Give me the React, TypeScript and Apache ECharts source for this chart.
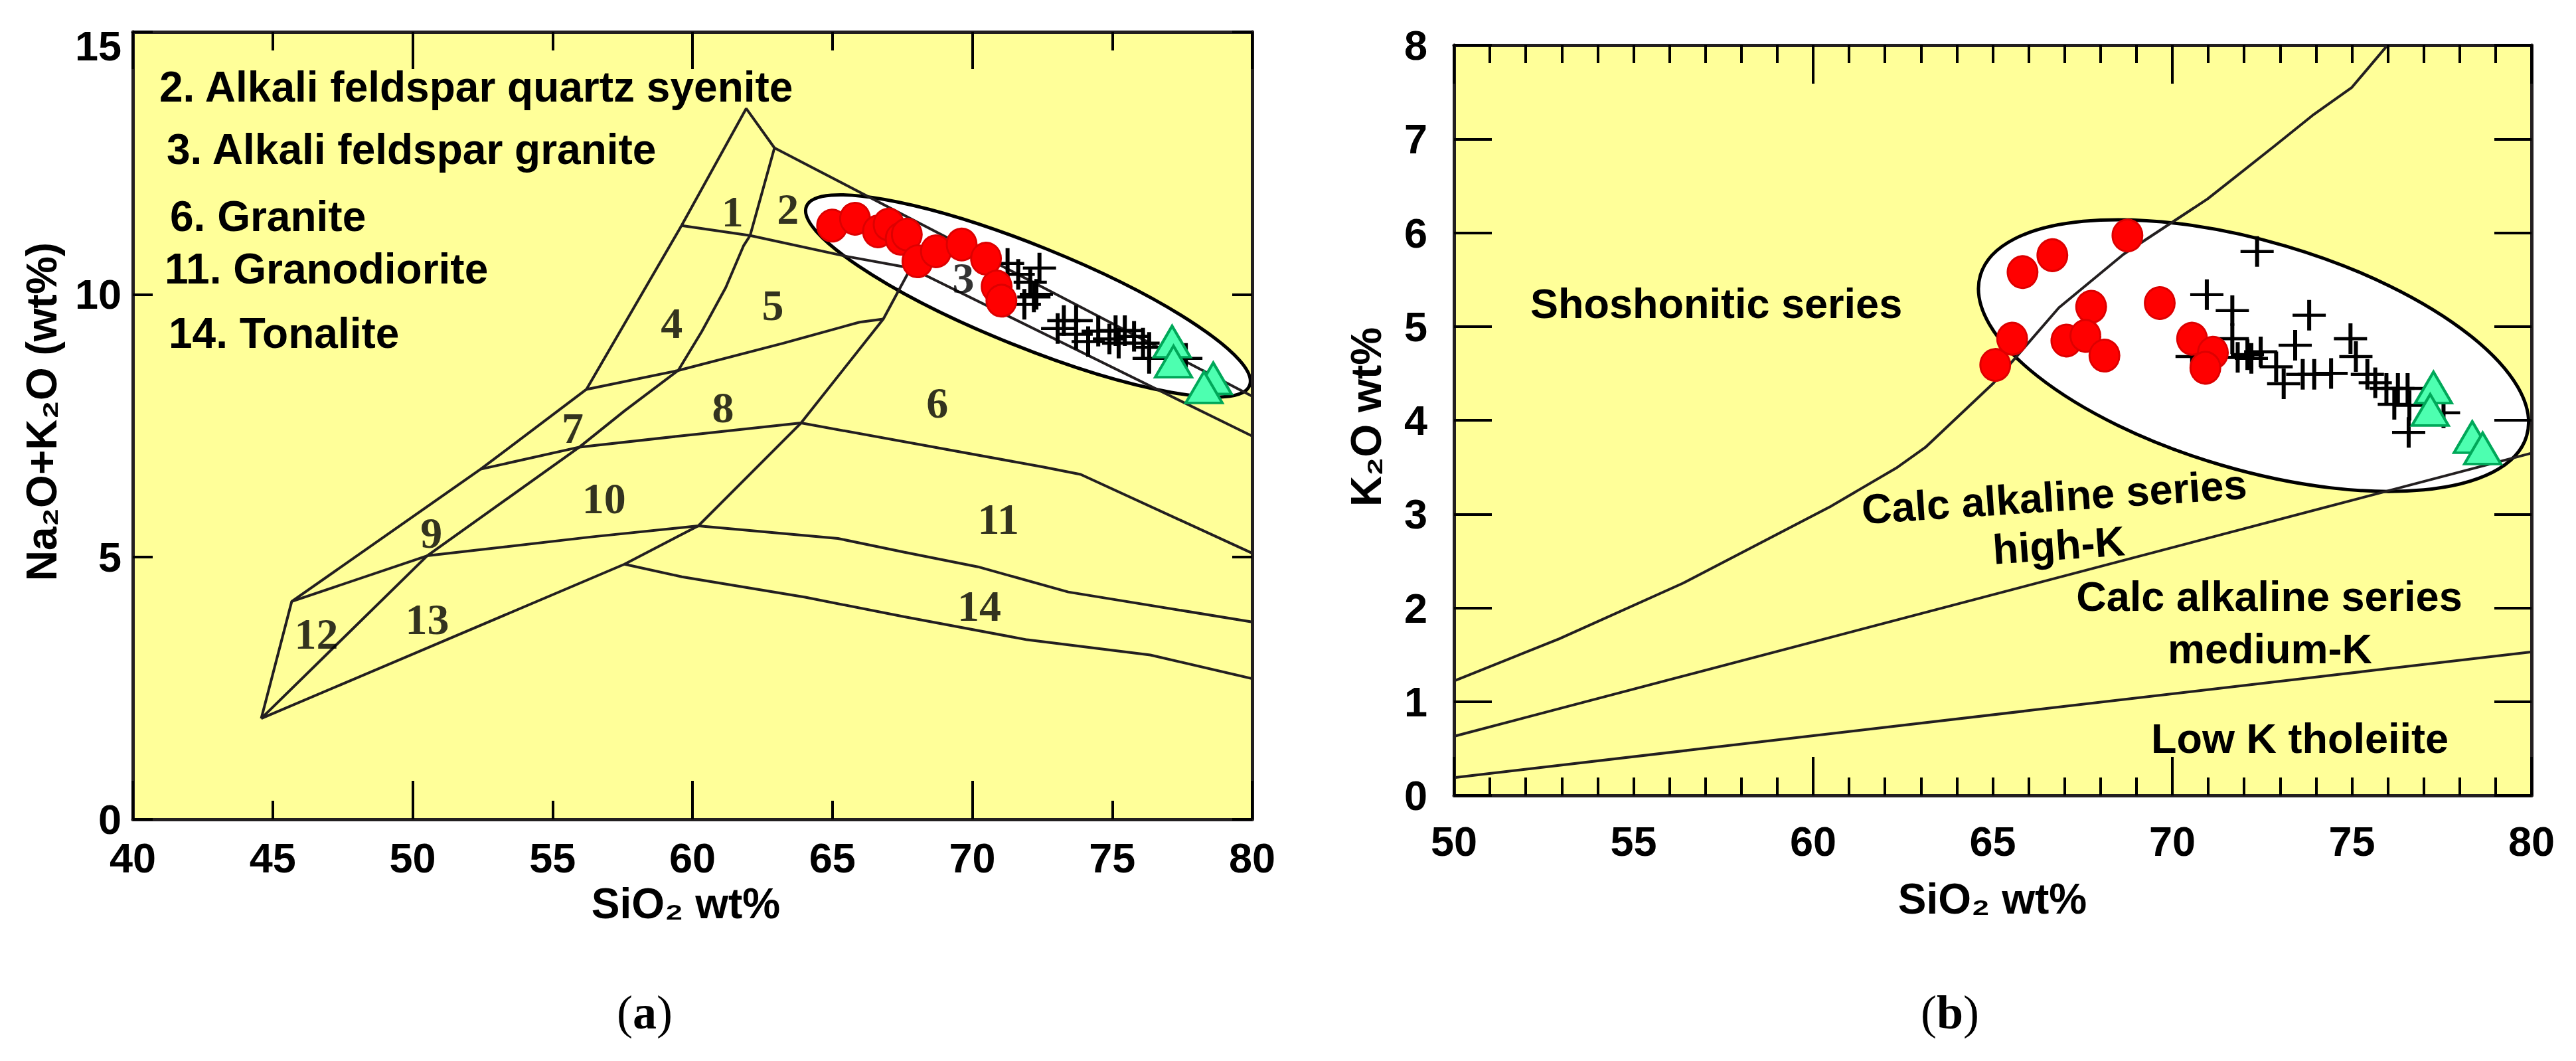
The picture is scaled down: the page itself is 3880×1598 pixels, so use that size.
import React, { useEffect, useRef } from "react";
import * as echarts from "echarts";

// ---------- Panel (a): TAS plutonic diagram ----------
const tasOuter = [[44.59, 1.92], [45.68, 4.15], [52.43, 6.67], [56.21, 8.19], [59.61, 11.31], [61.92, 13.54], [62.93, 12.79], [80, 8.06]];
const tasInnerDiag = [[62.93, 12.79], [62.06, 11.12], [61.83, 10.93], [61.19, 10.13], [60.33, 9.29], [59.49, 8.55], [57.57, 7.78], [55.96, 7.09], [50.52, 5.02], [44.59, 1.92]];
const tasUpperCross = [[59.61, 11.31], [62.06, 11.12], [65.54, 10.72], [67.8, 10.5], [80, 7.3]];
const tasLowerDiag = [[44.59, 1.92], [57.57, 4.86], [60.21, 5.59], [63.88, 7.55], [66.82, 9.53], [67.8, 10.5]];
const tasMid1 = [[56.21, 8.19], [59.49, 8.55], [63.25, 9.07], [65.97, 9.47], [66.82, 9.53]];
const tasMid2 = [[52.43, 6.67], [55.96, 7.09], [60.21, 7.34], [63.88, 7.55], [72.55, 6.71], [73.87, 6.57], [80, 5.07]];
const tasMid3 = [[45.68, 4.15], [50.52, 5.02], [56.39, 5.38], [60.21, 5.59], [65.2, 5.35], [67.55, 5.09], [70.2, 4.81], [73.43, 4.33], [80, 3.76]];
const tasLow = [[57.57, 4.86], [59.62, 4.62], [64.03, 4.23], [67.55, 3.86], [71.96, 3.42], [76.36, 3.13], [80, 2.68]];

const fieldNames = ["1", "2", "3", "4", "5", "6", "7", "8", "9", "10", "11", "12", "13", "14"];
const fieldAnchors = [[61.43, 11.58], [63.41, 11.63], [69.68, 10.32], [59.26, 9.46], [62.87, 9.8], [68.75, 7.94], [55.72, 7.45], [61.09, 7.85], [50.67, 5.46], [56.84, 6.12], [70.93, 5.72], [46.56, 3.53], [50.52, 3.81], [70.25, 4.07]];

const legendA = ["2. Alkali feldspar quartz syenite", "3. Alkali feldspar granite", "6. Granite", "11. Granodiorite", "14. Tonalite"];

const redA = [[64.99, 11.31], [65.81, 11.44], [66.63, 11.2], [67.01, 11.33], [67.44, 11.06], [67.66, 11.14], [68.04, 10.63], [68.7, 10.82], [69.62, 10.95], [70.49, 10.68], [70.87, 10.15], [71.04, 9.88]];
const crossA = [[71.26, 10.59], [71.64, 10.38], [72.4, 10.5], [72.07, 10.23], [72.29, 10.0], [71.86, 9.81], [72.2, 9.95], [73.27, 9.5], [73.71, 9.5], [73.05, 9.35], [73.71, 9.24], [74.14, 9.1], [74.5, 9.3], [75.12, 9.31], [75.45, 9.31], [75.78, 9.2], [75.23, 9.07], [76.1, 9.07], [76.32, 8.99], [76.32, 8.78], [77.63, 8.78], [74.9, 9.15]];
const triA = [[77.14, 9.1], [77.19, 8.72], [78.61, 8.4], [78.28, 8.23]];
const ellipseACenter = [71.99, 9.97];

// ---------- Panel (b): K2O vs SiO2 ----------
const shoLine = [[50, 1.22], [52.93, 1.67], [56.36, 2.26], [60.48, 3.08], [62.31, 3.49], [63.12, 3.71], [65.03, 4.4], [66.84, 5.2], [68.64, 5.77], [70.98, 6.36], [72.83, 6.92], [73.9, 7.25], [75.0, 7.55], [75.97, 7.99]];
const highKLine = [[50, 0.63], [80, 3.65]];
const lowKLine = [[50, 0.19], [80, 1.53]];

const redB = [[65.07, 4.59], [65.54, 4.87], [65.83, 5.58], [66.66, 5.76], [68.75, 5.97], [67.74, 5.21], [67.05, 4.85], [67.58, 4.9], [68.11, 4.69], [69.65, 5.25], [70.55, 4.87], [71.13, 4.72], [70.92, 4.56]];
const crossB = [[72.36, 5.8], [70.96, 5.34], [71.67, 5.17], [73.81, 5.12], [73.42, 4.8], [74.96, 4.87], [71.67, 4.87], [75.11, 4.68], [70.55, 4.68], [71.82, 4.67], [72.2, 4.66], [72.46, 4.73], [72.09, 4.7], [72.89, 4.57], [73.1, 4.39], [73.63, 4.49], [73.95, 4.49], [74.42, 4.5], [75.43, 4.49], [75.65, 4.4], [75.96, 4.34], [76.28, 4.34], [76.55, 4.34], [76.18, 4.17], [76.6, 4.16], [76.58, 3.87], [77.55, 4.08]];
const triB = [[77.27, 4.35], [77.18, 4.11], [78.35, 3.82], [78.64, 3.7]];
const ellipseBCenter = [72.26, 4.69];

const seriesLabelsB = ["Shoshonitic series", "Calc alkaline series", "high-K", "Calc alkaline series", "medium-K", "Low K tholeiite"];

// ---------- styles ----------
const SANS = "Liberation Sans, Arial, Helvetica, sans-serif";
const SERIF = "Liberation Serif, Times New Roman, Times, serif";
const FRAME = "#231f20";
const YELLOW = "#ffff99";
const CROSS = "path://M44,0h12v100h-12zM0,45h100v10h-100z";

const tickLabel = { fontSize: 63, fontWeight: "bold" as const, fontFamily: SANS, color: "#000" };

function xAx(grid: number, min: number, max: number, interval: number, pos: "bottom" | "top", tickLen: number, opts: any = {}) {
  return {
    type: "value", gridIndex: grid, min, max, interval, position: pos, z: 10,
    axisLine: { show: opts.line ?? false, onZero: false, lineStyle: { color: FRAME, width: 5 } },
    axisTick: { show: true, inside: true, length: tickLen, lineStyle: { color: "#000", width: 4 } },
    axisLabel: opts.label ? { show: true, ...tickLabel, margin: opts.margin, formatter: opts.formatter } : { show: false },
    splitLine: { show: false },
  };
}
function yAx(grid: number, min: number, max: number, interval: number, pos: "left" | "right", tickLen: number, opts: any = {}) {
  return {
    type: "value", gridIndex: grid, min, max, interval, position: pos, z: 10,
    axisLine: { show: true, onZero: false, lineStyle: { color: FRAME, width: 5 } },
    axisTick: { show: true, inside: true, length: tickLen, lineStyle: { color: "#000", width: 4 } },
    axisLabel: opts.label ? { show: true, ...tickLabel, margin: opts.margin, padding: opts.padding, formatter: opts.formatter, rich: opts.rich } : { show: false },
    splitLine: { show: false },
  };
}

const line = (data: number[][], xi: number, yi: number) => ({
  type: "line", xAxisIndex: xi, yAxisIndex: yi, data, symbol: "none", showSymbol: false, silent: true, z: 2,
  lineStyle: { color: FRAME, width: 4 },
});
const redSeries = (data: number[][], xi: number, yi: number) => ({
  type: "scatter", xAxisIndex: xi, yAxisIndex: yi, data, symbol: "circle", symbolSize: [45, 48], silent: true, z: 5,
  itemStyle: { color: "#ff0000", borderColor: "#dd0000", borderWidth: 3, opacity: 1 },
});
const crossSeries = (data: number[][], xi: number, yi: number) => ({
  type: "scatter", xAxisIndex: xi, yAxisIndex: yi, data, symbol: CROSS, symbolSize: [50, 46], silent: true, z: 4,
  itemStyle: { color: "#000", opacity: 1 },
});
const triSeries = (data: number[][], xi: number, yi: number) => ({
  type: "scatter", xAxisIndex: xi, yAxisIndex: yi, data, symbol: "triangle", symbolSize: [55, 47], silent: true, z: 6,
  itemStyle: { color: "#4dffb0", borderColor: "#00a859", borderWidth: 4, opacity: 1 },
});

function text(t: string, x: number, y: number, o: any = {}) {
  const align = o.align || "center";
  return {
    type: "text", x, y, rotation: o.rotation || 0, z: 20, silent: true,
    style: {
      text: t, fill: "#000", fontSize: o.fontSize || 64, fontWeight: o.fontWeight || "bold", fontFamily: o.fontFamily || SANS,
      align, verticalAlign: "middle", textAlign: align, textVerticalAlign: "middle", rich: o.rich,
    },
  };
}

export default function App() {
  const ref = useRef<HTMLDivElement>(null);
  useEffect(() => {
    const el = ref.current as HTMLDivElement;
    const chart = echarts.init(el, undefined, { renderer: "svg", width: 3880, height: 1598 });
    const option: any = {
      animation: false,
      grid: [
        { left: 200, top: 48, width: 1686, height: 1186, show: true, backgroundColor: YELLOW, borderWidth: 0 },
        { left: 2190, top: 68, width: 1623, height: 1130, show: true, backgroundColor: YELLOW, borderWidth: 0 },
      ],
      xAxis: [
        xAx(0, 40, 80, 5, "bottom", 28, { line: true, label: true, margin: 26 }),
        xAx(0, 40, 80, 10, "bottom", 58),
        xAx(0, 40, 80, 5, "top", 28, { line: true }),
        xAx(0, 40, 80, 10, "top", 56),
        xAx(1, 50, 80, 1, "bottom", 27, { line: true, label: true, margin: 37, formatter: (v: number) => (v % 5 === 0 ? String(v) : "") }),
        xAx(1, 50, 80, 10, "bottom", 58),
        xAx(1, 50, 80, 1, "top", 27, { line: true }),
        xAx(1, 50, 80, 10, "top", 58),
      ],
      yAxis: [
        yAx(0, 0, 15, 5, "left", 30, {
          label: true, margin: 17,
          formatter: (v: number) => (v === 15 ? "{t|15}" : String(v)),
          rich: { t: { ...tickLabel, padding: [42, 0, 0, 0] } },
        }),
        yAx(0, 0, 15, 5, "right", 30),
        yAx(1, 0, 8, 1, "left", 57, { label: true, margin: 40, padding: [30, 0, 0, 0] }),
        yAx(1, 0, 8, 1, "right", 56),
      ],
      series: [
        line(tasOuter, 0, 0), line(tasInnerDiag, 0, 0), line(tasUpperCross, 0, 0), line(tasLowerDiag, 0, 0),
        line(tasMid1, 0, 0), line(tasMid2, 0, 0), line(tasMid3, 0, 0), line(tasLow, 0, 0),
        {
          type: "scatter", xAxisIndex: 0, yAxisIndex: 0, silent: true, z: 3, symbolSize: 1,
          itemStyle: { color: "rgba(0,0,0,0)" },
          data: fieldNames.map((n, i) => ({ name: n, value: fieldAnchors[i] })),
          label: { show: true, position: "inside", formatter: "{b}", fontFamily: SERIF, fontWeight: "bold", fontSize: 66, color: "#000" },
        },
        crossSeries(crossA, 0, 0), redSeries(redA, 0, 0), triSeries(triA, 0, 0),
        line(shoLine, 4, 2), line(highKLine, 4, 2), line(lowKLine, 4, 2),
        crossSeries(crossB, 4, 2), redSeries(redB, 4, 2), triSeries(triB, 4, 2),
      ],
    };
    chart.setOption(option);

    const pA = chart.convertToPixel({ xAxisIndex: 0, yAxisIndex: 0 }, ellipseACenter) as number[];
    const pB = chart.convertToPixel({ xAxisIndex: 4, yAxisIndex: 2 }, ellipseBCenter) as number[];
    const deg = Math.PI / 180;
    const ell = (p: number[], rx: number, ry: number, rotDeg: number) => ({
      type: "ellipse", x: p[0], y: p[1], rotation: -rotDeg * deg, z: 1, silent: true,
      shape: { cx: 0, cy: 0, rx, ry },
      style: { fill: "#ffffff", stroke: "#000", lineWidth: 5 },
    });
    const legendMid = [131, 225, 326, 405, 502];
    const legendLeft = [240, 251, 256, 248, 254];
    const capRich = {
      p: { fontFamily: SERIF, fontSize: 72, fontWeight: "normal", fill: "#000", color: "#000" },
      b: { fontFamily: SERIF, fontSize: 72, fontWeight: "bold", fill: "#000", color: "#000" },
    };
    const elements: any[] = [
      ell(pA, 360, 76, 22),
      ell(pB, 429, 172, 16.4),
      ...legendA.map((t, i) => text(t, legendLeft[i], legendMid[i], { align: "left" })),
      text("Na\u2082O+K\u2082O (wt%)", 63, 620, { rotation: Math.PI / 2 }),
      text("SiO\u2082 wt%", 1033, 1361),
      text("K\u2082O wt%", 2058, 628, { rotation: Math.PI / 2 }),
      text("SiO\u2082 wt%", 3001, 1354),
      text(seriesLabelsB[0], 2305, 457, { align: "left", fontSize: 63 }),
      text(seriesLabelsB[1], 3094, 748, { rotation: 3.8 * deg, fontSize: 63 }),
      text(seriesLabelsB[2], 3101, 821, { rotation: 3.9 * deg, fontSize: 63 }),
      text(seriesLabelsB[3], 3418, 898, { fontSize: 63 }),
      text(seriesLabelsB[4], 3419, 977, { fontSize: 63 }),
      text(seriesLabelsB[5], 3464, 1112, { fontSize: 63 }),
      text("{p|(}{b|a}{p|)}", 971, 1525, { rich: capRich, fontFamily: SERIF, fontWeight: "normal", fontSize: 72 }),
      text("{p|(}{b|b}{p|)}", 2937, 1525, { rich: capRich, fontFamily: SERIF, fontWeight: "normal", fontSize: 72 }),
    ];
    chart.setOption({ graphic: { elements } });
    return () => chart.dispose();
  }, []);
  return <div ref={ref} style={{ position: "absolute", left: 0, top: 0, width: 3880, height: 1598, background: "#fff" }} />;
}
